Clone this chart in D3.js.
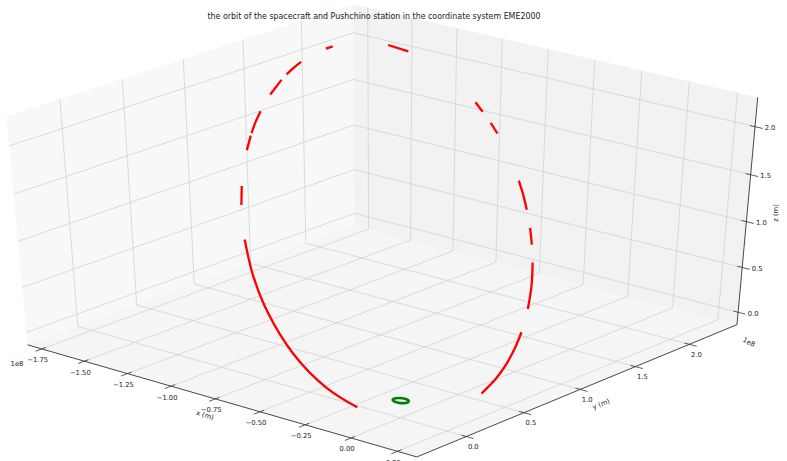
<!DOCTYPE html>
<html>
<head>
<meta charset="utf-8">
<script src="https://cdn.jsdelivr.net/npm/d3@7"></script>
<style>
body { margin: 0; background: #fff; }
text { font-family: "DejaVu Sans", sans-serif; fill: #222; }
</style>
</head>
<body>
<script>
var width = 787;
var height = 461;

var titleText = "the orbit of the spacecraft and Pushchino station in the coordinate system EME2000";

// axis limits, units of 1e8 m
var xLimits = [-1.834, 0.354];
var yLimits = [-0.42, 2.45];
var zLimits = [-0.14, 2.30];

var xTicks = [-1.75, -1.5, -1.25, -1.0, -0.75, -0.5, -0.25, 0.0, 0.25];
var yTicks = [0.0, 0.5, 1.0, 1.5, 2.0];
var zTicks = [0.0, 0.5, 1.0, 1.5, 2.0];

// spacecraft orbit, pieces that were plotted [x, y, z] in 1e8 m
var orbitSegments = [
  [[-0.132, -0.163, -0.013], [-0.309, -0.150, 0.097], [-0.546, -0.060, 0.286],
   [-0.797, 0.107, 0.524], [-0.996, 0.287, 0.740], [-1.166, 0.478, 0.945]],
  [[-1.318, 0.683, 1.146], [-1.395, 0.804, 1.258]],
  [[-1.526, 1.049, 1.470], [-1.573, 1.155, 1.556]],
  [[-1.581, 1.174, 1.571], [-1.614, 1.260, 1.638], [-1.642, 1.346, 1.701]],
  [[-1.680, 1.488, 1.802], [-1.704, 1.623, 1.890]],
  [[-1.710, 1.677, 1.924], [-1.714, 1.744, 1.963], [-1.714, 1.809, 1.999]],
  [[-1.687, 1.984, 2.080], [-1.674, 2.024, 2.094]],
  [[-1.495, 2.232, 2.104], [-1.401, 2.262, 2.066]],
  [[-0.968, 2.171, 1.762], [-0.905, 2.136, 1.706]],
  [[-0.833, 2.092, 1.640], [-0.767, 2.046, 1.577]],
  [[-0.506, 1.819, 1.298], [-0.433, 1.742, 1.214], [-0.363, 1.661, 1.128]],
  [[-0.280, 1.558, 1.022], [-0.207, 1.457, 0.924]],
  [[-0.134, 1.347, 0.821], [-0.047, 1.199, 0.689], [0.034, 1.038, 0.552]],
  [[0.104, 0.871, 0.419], [0.149, 0.736, 0.318], [0.181, 0.614, 0.233],
   [0.202, 0.498, 0.156], [0.214, 0.353, 0.069]]
];

// Pushchino station over one day, 1e8 m
var stationTrack = [
  [0.0367, 0.0000, 0.0521], [0.0339, 0.0140, 0.0521], [0.0260, 0.0260, 0.0521],
  [0.0140, 0.0339, 0.0521], [0.0000, 0.0367, 0.0521], [-0.0140, 0.0339, 0.0521],
  [-0.0260, 0.0260, 0.0521], [-0.0339, 0.0140, 0.0521], [-0.0367, 0.0000, 0.0521],
  [-0.0339, -0.0140, 0.0521], [-0.0260, -0.0260, 0.0521], [-0.0140, -0.0339, 0.0521],
  [0.0000, -0.0367, 0.0521], [0.0140, -0.0339, 0.0521], [0.0260, -0.0260, 0.0521],
  [0.0339, -0.0140, 0.0521]
];

// view
var azim = -50 * Math.PI / 180;
var elev = 35 * Math.PI / 180;
var dist = 10;
var scaleX = 518, scaleY = 278;
var centerX = 384, centerY = 224;

var xScale = d3.scaleLinear().domain(xLimits).range([-0.5, 0.5]);
var yScale = d3.scaleLinear().domain(yLimits).range([-0.5, 0.5]);
var zScale = d3.scaleLinear().domain(zLimits).range([-0.5, 0.5]);

function project(p) {
  var X = xScale(p[0]), Y = yScale(p[1]), Z = zScale(p[2]);
  var u = -Math.sin(azim) * X + Math.cos(azim) * Y;
  var v = -Math.cos(azim) * Math.sin(elev) * X - Math.sin(azim) * Math.sin(elev) * Y + Math.cos(elev) * Z;
  var w = Math.cos(elev) * Math.cos(azim) * X + Math.cos(elev) * Math.sin(azim) * Y + Math.sin(elev) * Z;
  var s = dist / (dist - w);
  return [centerX + scaleX * u * s, centerY - scaleY * v * s];
}

var x0 = xLimits[0], x1 = xLimits[1];
var y0 = yLimits[0], y1 = yLimits[1];
var z0 = zLimits[0], z1 = zLimits[1];

var svg = d3.select("body")
  .append("svg")
  .attr("width", width)
  .attr("height", height);

// panes
var panes = [
  { fill: "rgb(242,242,242)", pts: [[x0, y0, z0], [x0, y1, z0], [x0, y1, z1], [x0, y0, z1]] },
  { fill: "rgb(230,230,230)", pts: [[x0, y1, z0], [x1, y1, z0], [x1, y1, z1], [x0, y1, z1]] },
  { fill: "rgb(236,236,236)", pts: [[x0, y0, z0], [x1, y0, z0], [x1, y1, z0], [x0, y1, z0]] }
];

svg.selectAll("polygon.pane")
  .data(panes)
  .enter()
  .append("polygon")
  .attr("class", "pane")
  .attr("points", function(d) { return d.pts.map(project).join(" "); })
  .attr("fill", function(d) { return d.fill; })
  .attr("fill-opacity", 0.5);

// grid lines
var gridLines = [];
xTicks.forEach(function(t) {
  gridLines.push([[t, y0, z0], [t, y1, z0]]);
  gridLines.push([[t, y1, z0], [t, y1, z1]]);
});
yTicks.forEach(function(t) {
  gridLines.push([[x0, t, z0], [x1, t, z0]]);
  gridLines.push([[x0, t, z0], [x0, t, z1]]);
});
zTicks.forEach(function(t) {
  gridLines.push([[x0, y0, t], [x0, y1, t]]);
  gridLines.push([[x0, y1, t], [x1, y1, t]]);
});

var line = d3.line();

svg.selectAll("path.grid")
  .data(gridLines)
  .enter()
  .append("path")
  .attr("class", "grid")
  .attr("d", function(d) { return line(d.map(project)); })
  .attr("stroke", "#d2d2d2")
  .attr("stroke-width", 0.8)
  .attr("fill", "none");

// axis lines
var axisLines = [
  [[x0, y0, z0], [x1, y0, z0]],
  [[x1, y0, z0], [x1, y1, z0]],
  [[x1, y1, z0], [x1, y1, z1]]
];

svg.selectAll("path.axis")
  .data(axisLines)
  .enter()
  .append("path")
  .attr("class", "axis")
  .attr("d", function(d) { return line(d.map(project)); })
  .attr("stroke", "#333")
  .attr("stroke-width", 0.9)
  .attr("fill", "none");

// ticks
var ry = y1 - y0, rx = x1 - x0;
var tickMarks = [];
xTicks.forEach(function(t) { tickMarks.push([[t, y0 + 0.012 * ry, z0], [t, y0 - 0.018 * ry, z0]]); });
yTicks.forEach(function(t) { tickMarks.push([[x1 - 0.012 * rx, t, z0], [x1 + 0.018 * rx, t, z0]]); });
zTicks.forEach(function(t) { tickMarks.push([[x1 - 0.012 * rx, y1, t], [x1 + 0.018 * rx, y1, t]]); });

svg.selectAll("path.tick")
  .data(tickMarks)
  .enter()
  .append("path")
  .attr("class", "tick")
  .attr("d", function(d) { return line(d.map(project)); })
  .attr("stroke", "#333")
  .attr("stroke-width", 0.8);

function tickLabels(ticks, toPoint, fmt, dx, dy) {
  svg.append("g")
    .selectAll("text")
    .data(ticks)
    .enter()
    .append("text")
    .attr("x", function(d) { return project(toPoint(d))[0] + dx; })
    .attr("y", function(d) { return project(toPoint(d))[1] + dy; })
    .attr("text-anchor", "middle")
    .attr("dy", "0.35em")
    .style("font-size", "6.8px")
    .text(function(d) { return d3.format(fmt)(d); });
}

tickLabels(xTicks, function(t) { return [t, y0, z0]; }, ".2f", -4, 11);
tickLabels(yTicks, function(t) { return [x1, t, z0]; }, ".1f", 7, 10);
tickLabels(zTicks, function(t) { return [x1, y1, t]; }, ".1f", 15, 1);

// axis titles and offsets
var labels = [
  { text: "x (m)", x: 205, y: 415, rot: 16 },
  { text: "y (m)", x: 601, y: 404, rot: -22 },
  { text: "z (m)", x: 776, y: 213, rot: -90 },
  { text: "1e8", x: 17, y: 364, rot: 0 },
  { text: "1e8", x: 749, y: 342, rot: 28 }
];

svg.selectAll("text.label")
  .data(labels)
  .enter()
  .append("text")
  .attr("class", "label")
  .attr("transform", function(d) { return "translate(" + d.x + "," + d.y + ") rotate(" + d.rot + ")"; })
  .attr("text-anchor", "middle")
  .attr("dy", "0.35em")
  .style("font-size", "6.8px")
  .text(function(d) { return d.text; });

// data
var curve = d3.line().curve(d3.curveCatmullRom);

svg.selectAll("path.orbit")
  .data(orbitSegments)
  .enter()
  .append("path")
  .attr("class", "orbit")
  .attr("d", function(d) { return curve(d.map(project)); })
  .attr("stroke", "red")
  .attr("stroke-width", 2.3)
  .attr("fill", "none");

svg.append("path")
  .datum(stationTrack)
  .attr("d", function(d) { return d3.line().curve(d3.curveCatmullRomClosed)(d.map(project)); })
  .attr("stroke", "green")
  .attr("stroke-width", 2.6)
  .attr("fill", "none");

svg.append("text")
  .attr("x", 374)
  .attr("y", 19)
  .attr("text-anchor", "middle")
  .attr("textLength", 333)
  .attr("lengthAdjust", "spacingAndGlyphs")
  .style("font-size", "8px")
  .text(titleText);
</script>
</body>
</html>
